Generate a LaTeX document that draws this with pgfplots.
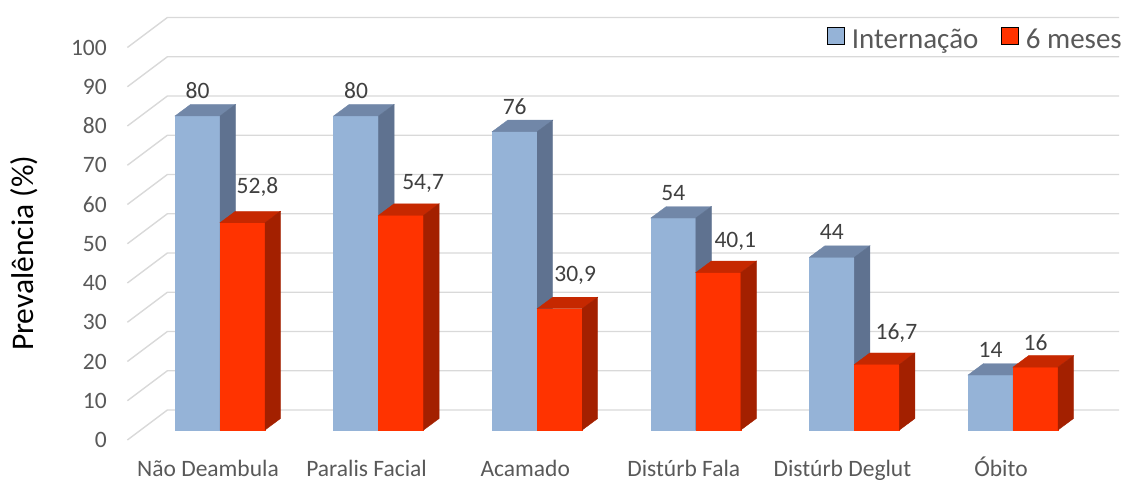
\documentclass[border=0pt]{standalone}
\usepackage{fontspec}
\setmainfont{Carlito}
\usepackage{pgfplots}
\pgfplotsset{compat=1.18}
\usepackage{pgfplotstable}

\definecolor{bluF}{HTML}{95B3D7}
\definecolor{bluT}{HTML}{7187A8}
\definecolor{bluS}{HTML}{5F7290}
\definecolor{redF}{HTML}{FF3300}
\definecolor{redT}{HTML}{C62800}
\definecolor{redS}{HTML}{A32000}
\definecolor{gridc}{HTML}{D9D9D9}
\definecolor{tickc}{HTML}{595959}
\definecolor{labc}{HTML}{404040}

% x y label  dx dy  (dx, dy: extra shift of the value label)
\pgfplotstableread{
x y lab dx dy
0 80 80 0 0
1 80 80 0 0
2 76 76 0 0
3 54 54 0 0
4 44 44 0 0
5 14 14 0 0
}\internacao
\pgfplotstableread{
x y lab dx dy
0 52.8 {52,8} 15 11
1 54.7 {54,7} 22 7
2 30.9 {30,9} 15.5 8
3 40.1 {40,1} 17 6
4 16.7 {16,7} 19.5 6
5 16 16 0 0
}\seismeses

% one 3D bar drawn at its data point (top front);
% #1 = right edge of the bar relative to the point, #2 front, #3 top, #4 side colour
\newcommand\barbox[4]{%
  \fill[#2] (#1-45pt,0pt) rectangle ([xshift=#1]axis direction cs:0,-\val);
  \fill[#3] (#1-45pt,0pt) -- (#1-29.5pt,11.5pt) -- (#1+15.5pt,11.5pt) -- (#1,0pt) -- cycle;
  \fill[#4] (#1,0pt) -- (#1+15.5pt,11.5pt)
    -- ([shift={(#1+15.5pt,11.5pt)}]axis direction cs:0,-\val)
    -- ([xshift=#1]axis direction cs:0,-\val) -- cycle;
}

\pgfplotsset{
  bars3d/.style n args={4}{forget plot, only marks, mark=text, text mark={}, scatter,
    visualization depends on={\thisrow{y} \as \val},
    scatter/@pre marker code/.code={\barbox{#1}{#2}{#3}{#4}},
    scatter/@post marker code/.code={}},
  values/.style={forget plot, only marks, mark=text, text mark={},
    nodes near coords, point meta=explicit symbolic,
    visualization depends on={\thisrow{dx} \as \dx},
    visualization depends on={\thisrow{dy} \as \dy},
    every node near coord/.append style={anchor=center, inner sep=0pt, text=labc,
      font=\fontsize{23.5}{28}\selectfont, xshift=#1+\dx pt, yshift=25pt+\dy pt}},
}

\begin{document}
\begin{tikzpicture}
\useasboundingbox (0,0) rectangle (1126pt,481pt);
\begin{axis}[
  at={(140.7pt,51pt)}, anchor=south west,
  scale only axis, width=951.6pt, height=392.5pt,
  xmin=-0.5, xmax=5.5, ymin=0, ymax=100,
  clip=false,
  axis line style={draw=none}, major tick length=0pt, tick style={draw=none},
  xtick={0,...,5},
  xticklabels={Não Deambula, Paralis Facial, Acamado, Distúrb Fala, Distúrb Deglut, Óbito},
  xticklabel style={anchor=base, inner sep=0pt, xshift=-12pt, yshift=-47pt},
  ytick={0,10,...,100},
  yticklabel style={anchor=east, inner sep=0pt, xshift=-33.7pt, yshift=-10pt},
  tick label style={text=tickc, font=\fontsize{23.5}{28}\selectfont},
  /pgf/number format/assume math mode=true,
  ylabel={Prevalência (\%)},
  ylabel style={at={(axis description cs:-0.122,0.45)}, anchor=center,
    font=\fontsize{31.5}{36}\selectfont, text=black},
  legend image code/.code={\fill[#1] (0pt,-5pt) rectangle (17pt,12pt);},
  legend style={draw=none, fill=none, inner sep=0pt, legend columns=2,
    at={(axis description cs:1.0312,1.0268)}, anchor=north east,
    nodes={inner sep=0pt, text=tickc, font=\fontsize{29}{34}\selectfont},
    /tikz/every odd column/.append style={column sep=7pt},
    /tikz/every even column/.append style={column sep=23pt}},
  legend cell align=left,
]
\pgfplotsinvokeforeach{0,10,...,100}{
  \draw[gridc, line width=1.4pt]
    ([shift={(-13.3pt,-10pt)}]axis cs:-0.5,#1) -- ([shift={(26.7pt,20pt)}]axis cs:-0.5,#1)
    -- ([shift={(26.7pt,20pt)}]axis cs:5.5,#1);
}
\addplot[bars3d={0pt}{bluF}{bluT}{bluS}] table[x=x, y=y] {\internacao};
\addplot[bars3d={45pt}{redF}{redT}{redS}] table[x=x, y=y] {\seismeses};
\addplot[values={-22.5pt}] table[x=x, y=y, meta=lab] {\internacao};
\addplot[values={22.5pt}] table[x=x, y=y, meta=lab] {\seismeses};
\addlegendimage{fill=bluF}
\addlegendentry{Internação}
\addlegendimage{fill=redF}
\addlegendentry{6 meses}
\end{axis}
\end{tikzpicture}
\end{document}
